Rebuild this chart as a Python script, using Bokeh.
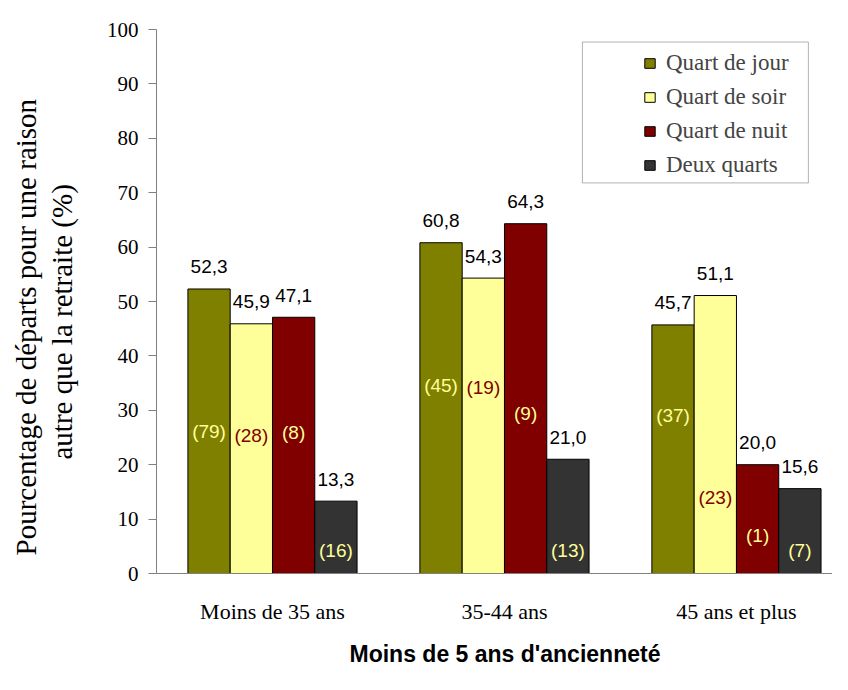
import math
from bokeh.plotting import figure
from bokeh.models import (ColumnDataSource, Range1d, FixedTicker, Legend,
                          LegendItem, BoxAnnotation, Title)
from bokeh.core.properties import value
from bokeh.embed import file_html
from bokeh.resources import INLINE

# ---------------- data ----------------
categories = ["Moins de 35 ans", "35-44 ans", "45 ans et plus"]
series_names = ["Quart de jour", "Quart de soir", "Quart de nuit", "Deux quarts"]

jour = [52.3, 60.8, 45.7]
soir = [45.9, 54.3, 51.1]
nuit = [47.1, 64.3, 20.0]
deux = [13.3, 21.0, 15.6]

n_jour = [79, 45, 37]
n_soir = [28, 19, 23]
n_nuit = [8, 9, 1]
n_deux = [16, 13, 7]

# height (in % units) at which each count label is written inside its bar
pos_jour = [26.1, 34.6, 29.0]
pos_soir = [25.4, 34.2, 14.0]
pos_nuit = [25.9, 29.4, 7.0]
pos_deux = [4.2, 4.2, 4.2]

y_ticks = [0, 10, 20, 30, 40, 50, 60, 70, 80, 90, 100]
x_title = "Moins de 5 ans d'ancienneté"
y_title = ["Pourcentage de départs pour une raison", "autre que la retraite (%)"]

values = [jour, soir, nuit, deux]
counts = [n_jour, n_soir, n_nuit, n_deux]
count_pos = [pos_jour, pos_soir, pos_nuit, pos_deux]

# ---------------- styles ----------------
fills = ["#808000", "#FFFF99", "#800000", "#333333"]
count_colors = ["#FFFF99", "#800000", "#FFFF99", "#FFFF99"]
bar_w = 0.1823
SERIF = "Liberation Serif"
SANS = "Liberation Sans"

p = figure(width=832, height=674,
           x_range=Range1d(0, 2.914), y_range=Range1d(0, 100),
           output_backend="svg", toolbar_location=None,
           min_border_left=156, min_border_right=0,
           min_border_top=29, min_border_bottom=101)
p.xgrid.visible = False
p.ygrid.visible = False
p.outline_line_color = None
p.background_fill_color = "white"
p.border_fill_color = "white"

# y axis
yax = p.yaxis[0]
yax.ticker = FixedTicker(ticks=y_ticks)
yax.major_tick_out = 8
yax.major_tick_in = 0
yax.minor_tick_out = 0
yax.minor_tick_in = 0
yax.axis_line_color = "#808080"
yax.major_tick_line_color = "#808080"
yax.major_label_text_font = SERIF
yax.major_label_text_font_size = "21px"
yax.major_label_text_color = "black"
yax.major_label_standoff = 10
# blank axis label: only leaves room between tick labels and the titles
yax.axis_label = " "
yax.axis_label_text_font_size = "14px"
yax.axis_label_standoff = 5

# x axis
xax = p.xaxis[0]
centers = [i + 0.5 for i in range(len(categories))]
xax.ticker = FixedTicker(ticks=centers)
xax.major_label_overrides = {c: name for c, name in zip(centers, categories)}
xax.major_tick_out = 0
xax.major_tick_in = 0
xax.minor_tick_out = 0
xax.minor_tick_in = 0
xax.axis_line_color = "#808080"
xax.major_label_text_font = SERIF
xax.major_label_text_font_size = "22px"
xax.major_label_text_color = "black"
xax.major_label_standoff = 25
# blank axis label: only leaves room between category labels and the title
xax.axis_label = " "
xax.axis_label_text_font_size = "8px"
xax.axis_label_standoff = 0

items = []
for k, (name, vals, cnts, cpos) in enumerate(zip(series_names, values, counts, count_pos)):
    xs = [c + (k - 1.5) * bar_w for c in centers]
    src = ColumnDataSource(dict(
        x=xs, top=vals,
        lbl=[f"{v:.1f}".replace(".", ",") for v in vals],
        cnt=[f"({n})" for n in cnts],
        cy=cpos,
    ))
    r = p.vbar(x="x", top="top", width=bar_w, source=src,
               fill_color=fills[k], line_color="black", line_width=1)
    p.text(x="x", y="top", text="lbl", source=src,
           text_font=value(SANS), text_font_size="19px", text_color="black",
           text_align="center", text_baseline="alphabetic", y_offset=-22)
    p.text(x="x", y="cy", text="cnt", source=src,
           text_font=value(SANS), text_font_size="19px", text_color=count_colors[k],
           text_align="center", text_baseline="middle")
    items.append(LegendItem(label=name, renderers=[r]))

legend = Legend(items=items, location=(487, 395),
                border_line_alpha=0, background_fill_alpha=0,
                padding=0, margin=0, spacing=8,
                label_text_font=SERIF, label_text_font_size="23px",
                glyph_width=13, glyph_height=12, label_standoff=10,
                label_height=24)
p.add_layout(legend)

p.add_layout(BoxAnnotation(left=1.836, right=2.810, bottom=71.8, top=97.7,
                           fill_alpha=0, line_color="black", line_width=1))

# axis titles (second line is nearer to the axis)
p.add_layout(Title(text=y_title[1], align="left", offset=114, standoff=4,
                   text_font=SERIF, text_font_size="29px",
                   text_font_style="normal", text_color="black"), "left")
p.add_layout(Title(text=y_title[0], align="left", offset=18, standoff=0,
                   text_font=SERIF, text_font_size="29px",
                   text_font_style="normal", text_color="black"), "left")
p.add_layout(Title(text=x_title, align="left", offset=193, standoff=0,
                   text_font=SANS, text_font_size="23px",
                   text_font_style="bold", text_color="black"), "below")

open("out.html", "w").write(file_html(p, INLINE))
